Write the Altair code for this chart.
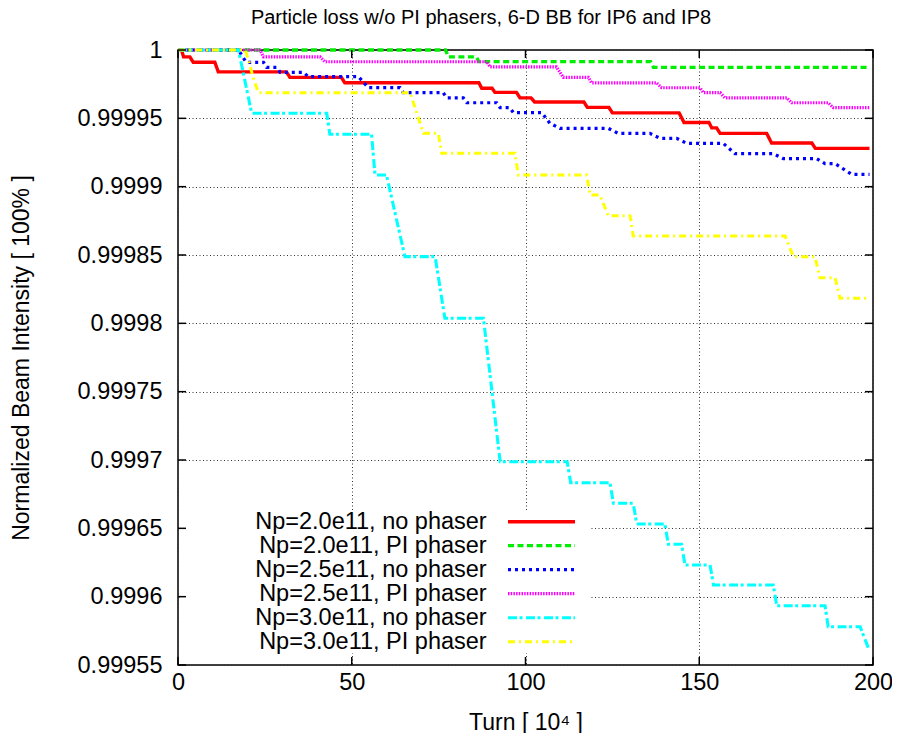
import altair as alt
import pandas as pd

F = "Liberation Sans"

title_text = "Particle loss w/o PI phasers, 6-D BB for IP6 and IP8"

names = ["Np=2.0e11, no phaser", "Np=2.0e11, PI phaser", "Np=2.5e11, no phaser",
         "Np=2.5e11, PI phaser", "Np=3.0e11, no phaser", "Np=3.0e11, PI phaser"]

red_turn = [0, 1.0, 1.6, 3.4, 4.4, 10.6, 11.6, 31.2, 32.2, 47.0, 48.0, 86.6, 87.4, 90.4, 91.2,
            97.4, 98.4, 101.6, 102.6, 116.8, 117.8, 124.0, 125.0, 144.2, 145.6, 152.8, 153.6,
            155.0, 156.0, 169.4, 170.8, 182.4, 183.4, 199]
red_int = [1.0, 1.0, 0.999995, 0.999995, 0.999991, 0.999991, 0.999984, 0.999984, 0.99998, 0.99998,
           0.999976, 0.999976, 0.999972, 0.999972, 0.999969, 0.999969, 0.999965, 0.999965,
           0.999962, 0.999962, 0.999958, 0.999958, 0.999954, 0.999954, 0.999947, 0.999947,
           0.999943, 0.999943, 0.999939, 0.999939, 0.999932, 0.999932, 0.999928, 0.999928]

green_turn = [0, 77.0, 77.8, 85.8, 86.6, 136.0, 136.8, 199]
green_int = [1.0, 1.0, 0.999995, 0.999995, 0.9999915, 0.9999915, 0.9999873, 0.9999873]

blue_turn = [0, 17.4, 19.6, 24.6, 25.5, 28.4, 29.4, 36.1, 37.5, 51.9, 54.8, 63.9, 64.8, 76.3, 77.3,
             82.1, 83.1, 91.7, 92.7, 95.5, 96.5, 104.7, 107.0, 109.9, 123.8, 126.7, 135.8, 138.7,
             143.5, 146.4, 156.9, 160.3, 171.3, 174.2, 183.8, 186.2, 189.1, 193.9, 199]
blue_int = [1.0, 1.0, 0.999991, 0.999991, 0.9999873, 0.9999873, 0.9999837, 0.9999837, 0.9999805,
            0.9999805, 0.9999724, 0.9999724, 0.9999688, 0.9999688, 0.999965, 0.999965, 0.9999614,
            0.9999614, 0.9999578, 0.9999578, 0.9999541, 0.9999541, 0.9999464, 0.9999427, 0.9999427,
            0.999939, 0.999939, 0.9999354, 0.9999354, 0.9999317, 0.9999317, 0.9999241, 0.9999241,
            0.9999205, 0.9999205, 0.9999168, 0.9999168, 0.999909, 0.999909]

magenta_turn = [0, 23.6, 24.6, 40.9, 42.3, 88.8, 89.8, 108.9, 110.9, 118.1, 119.0, 137.7, 139.2,
                150.2, 151.2, 156.0, 157.4, 175.2, 176.6, 187.1, 188.6, 199]
magenta_int = [1.0, 1.0, 0.999995, 0.999995, 0.9999914, 0.9999914, 0.9999876, 0.9999876, 0.99998,
               0.99998, 0.999976, 0.999976, 0.9999724, 0.9999724, 0.9999688, 0.9999688, 0.999965,
               0.999965, 0.9999614, 0.9999614, 0.9999578, 0.9999578]

cyan_turn = [0, 17.4, 21.2, 42.8, 43.7, 55.7, 56.7, 60.0, 65.3, 74.0, 76.8, 87.9, 92.7, 112.0,
             113.0, 124.3, 125.3, 131.0, 132.0, 140.1, 141.1, 144.9, 145.9, 153.1, 154.1, 171.3,
             172.3, 186.2, 187.1, 196.3, 198.7]
cyan_int = [1.0, 1.0, 0.9999537, 0.9999537, 0.9999383, 0.9999383, 0.9999085, 0.9999085, 0.9998488,
            0.9998488, 0.9998037, 0.9998037, 0.9996987, 0.9996987, 0.9996834, 0.9996834, 0.9996683,
            0.9996683, 0.9996532, 0.9996532, 0.9996383, 0.9996383, 0.9996232, 0.9996232, 0.9996085,
            0.9996085, 0.9995934, 0.9995934, 0.999578, 0.999578, 0.9995622]

yellow_turn = [0, 19.3, 20.3, 21.6, 23.1, 66.8, 70.6, 74.9, 75.9, 97.0, 97.9, 117.6, 118.6, 121.4,
               123.8, 130.1, 131.0, 174.7, 177.1, 183.3, 184.7, 189.1, 190.5, 199]
yellow_int = [1.0, 1.0, 0.9999927, 0.9999802, 0.9999688, 0.9999688, 0.999939, 0.999939, 0.9999244,
              0.9999244, 0.9999085, 0.9999085, 0.9998939, 0.9998939, 0.9998788, 0.9998788,
              0.9998639, 0.9998639, 0.9998488, 0.9998488, 0.9998334, 0.9998334, 0.9998183,
              0.9998183]

x_ticks = [0, 50, 100, 150, 200]
y_ticks = [0.99955, 0.9996, 0.99965, 0.9997, 0.99975, 0.9998, 0.99985, 0.9999, 0.99995, 1.0]

colors = ["#ff0000", "#00ee00", "#0000ff", "#ff00ff", "#00ffff", "#ffff00"]
dashes = [[1, 0], [6, 3.5], [3, 4], [1.5, 1.2], [9, 2.5, 3, 3.5], [7, 4, 2, 4]]
widths = [3.4, 3, 3, 2.5, 3, 3]

series_data = [(red_turn, red_int), (green_turn, green_int), (blue_turn, blue_int),
               (magenta_turn, magenta_int), (cyan_turn, cyan_int), (yellow_turn, yellow_int)]

rows = []
for name, (ts, vs) in zip(names, series_data):
    for i, (t, v) in enumerate(zip(ts, vs)):
        rows.append({"series": name, "turn": t, "intensity": v, "idx": i})
df = pd.DataFrame(rows)

W, H = 695, 615
x_scale = alt.Scale(domain=[0, 200], nice=False, zero=False)
y_scale = alt.Scale(domain=[0.99955, 1.0], nice=False, zero=False)

x_axis = alt.Axis(values=x_ticks, title="Turn [ 10⁴ ]", labelPadding=5, labelFlush=False,
                  titleX=W / 2, titleY=64, titleBaseline="alphabetic", titleAlign="center")

color_enc = alt.Color("series:N", scale=alt.Scale(domain=names, range=colors), legend=None)
dash_enc = alt.StrokeDash("series:N", scale=alt.Scale(domain=names, range=dashes), legend=None)
width_enc = alt.StrokeWidth("series:O", scale=alt.Scale(domain=names, range=widths), legend=None)

box = alt.Chart(pd.DataFrame({"a": [0]})).mark_rect(fill="white").encode(
    x=alt.value(2), x2=alt.value(412), y=alt.value(460), y2=alt.value(603)
)

lines = alt.Chart(df).mark_line(clip=False, strokeCap="butt").encode(
    x=alt.X("turn:Q", scale=x_scale, axis=x_axis),
    y=alt.Y("intensity:Q", scale=y_scale,
            axis=alt.Axis(values=y_ticks, format=".5~f", title="Normalized Beam Intensity [ 100% ]",
                          labelPadding=16, titleX=-150, titleY=H / 2, titleAngle=270,
                          titleBaseline="alphabetic", titleAlign="center")),
    color=color_enc,
    strokeDash=dash_enc,
    strokeWidth=width_enc,
    order="idx:Q",
)

ytick_df = pd.DataFrame({"v": y_ticks})
xtick_df = pd.DataFrame({"turn": x_ticks})
left_ticks = alt.Chart(ytick_df).mark_rule(color="black", strokeWidth=1.5).encode(
    y=alt.Y("v:Q", scale=y_scale, axis=None), x=alt.value(0), x2=alt.value(8))
right_ticks = alt.Chart(ytick_df).mark_rule(color="black", strokeWidth=1.5).encode(
    y=alt.Y("v:Q", scale=y_scale, axis=None), x=alt.value(W - 8), x2=alt.value(W))
bottom_ticks = alt.Chart(xtick_df).mark_rule(color="black", strokeWidth=1.5).encode(
    x=alt.X("turn:Q", scale=x_scale, axis=x_axis), y=alt.value(H - 8), y2=alt.value(H))
top_ticks = alt.Chart(xtick_df).mark_rule(color="black", strokeWidth=1.5).encode(
    x=alt.X("turn:Q", scale=x_scale, axis=x_axis), y=alt.value(0), y2=alt.value(8))

leg_df = pd.DataFrame({"series": names})
leg_y = alt.Y("series:N", scale=alt.Scale(type="point", domain=names, range=[471.7, 591.7], padding=0),
              axis=None)
leg_rules = alt.Chart(leg_df).mark_rule(strokeCap="butt").encode(
    y=leg_y, x=alt.value(330), x2=alt.value(397),
    color=color_enc, strokeDash=dash_enc, strokeWidth=width_enc)
leg_text = alt.Chart(leg_df).mark_text(align="right", baseline="middle", fontSize=23.5, font=F,
                                       color="black").encode(
    y=leg_y, x=alt.value(308.7), text="series:N")

title_mark = alt.Chart(pd.DataFrame({"t": [title_text]})).mark_text(
    align="center", baseline="alphabetic", fontSize=20, font=F, color="black").encode(
    text="t:N", x=alt.value(303), y=alt.value(-26.5))

chart = alt.layer(box, lines, left_ticks, right_ticks, bottom_ticks, top_ticks, leg_rules, leg_text,
                  title_mark
).resolve_scale(y="independent").properties(
    width=W, height=H,
    autosize=alt.AutoSizeParams(type="none"),
    padding={"left": 170, "top": 42, "right": 19, "bottom": 68},
).configure_view(stroke="black", strokeWidth=1.5).configure_axis(
    labelFont=F, labelFontSize=23.5, labelColor="black",
    titleFont=F, titleFontSize=23, titleFontWeight="normal", titleColor="black",
    tickSize=0, domain=False, grid=True, gridColor="#333", gridDash=[1, 2.5], gridWidth=1,
)

chart.save("out.html", embed_options={"renderer": "svg", "actions": False})
